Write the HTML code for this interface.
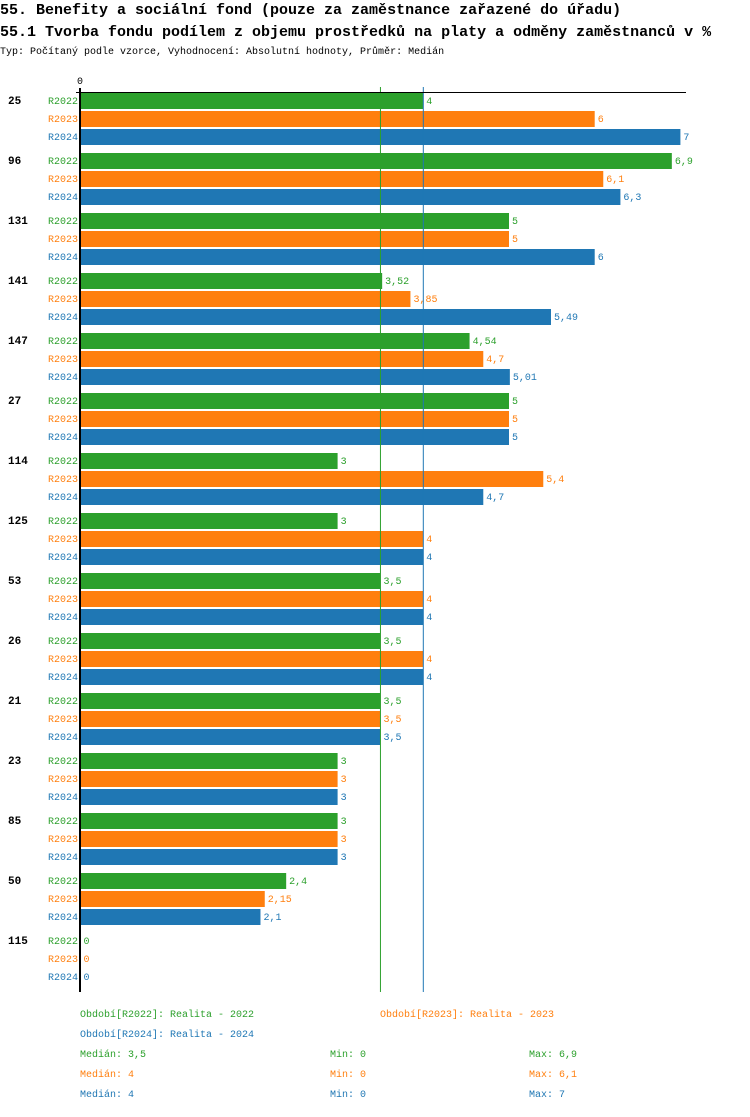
<!DOCTYPE html>
<html><head><meta charset="utf-8"><style>
body{margin:0;background:#fff;width:750px;height:1112px;overflow:hidden}
svg text{font-family:"Liberation Mono","DejaVu Sans Mono",monospace}
</style></head><body>
<svg width="750" height="1112" xmlns="http://www.w3.org/2000/svg">
<text x="0" y="14" font-size="15" font-weight="bold">55. Benefity a sociální fond (pouze za zaměstnance zařazené do úřadu)</text>
<text x="0" y="36" font-size="15" font-weight="bold">55.1 Tvorba fondu podílem z objemu prostředků na platy a odměny zaměstnanců v %</text>
<text x="0" y="54" font-size="10">Typ: Počítaný podle vzorce, Vyhodnocení: Absolutní hodnoty, Průměr: Medián</text>
<g id="plot"></g>
<g id="foot"></g>
</svg>
<script>
const categories=["25","96","131","141","147","27","114","125","53","26","21","23","85","50","115"];
const seriesNames=["R2022","R2023","R2024"];
const r2022=[4,6.9,5,3.52,4.54,5,3,3,3.5,3.5,3.5,3,3,2.4,0];
const r2023=[6,6.1,5,3.85,4.7,5,5.4,4,4,4,3.5,3,3,2.15,0];
const r2024=[7,6.3,6,5.49,5.01,5,4.7,4,4,4,3.5,3,3,2.1,0];
const medians=[3.5,4,4];
const mins=[0,0,0];
const maxs=[6.9,6.1,7];
const colors=["#2ca02c","#ff7f0e","#1f77b4"];
const NS="http://www.w3.org/2000/svg";
const x0=80.5,sc=85.7;
const xs=v=>x0+v*sc;
const groupY=i=>93+i*60;
const plot=document.getElementById('plot');
function mk(tag,attrs,parent,txt){const e=document.createElementNS(NS,tag);for(const k in attrs)e.setAttribute(k,attrs[k]);if(txt!==undefined)e.textContent=txt;parent.appendChild(e);return e;}
const all=[r2022,r2023,r2024];
const fmt=v=>String(v).replace('.',',');
categories.forEach((c,i)=>{
  const t=mk('text',{x:8,y:groupY(i)+11,'font-size':11,'font-weight':'bold'},plot,c);
  
  
  all.forEach((s,j)=>{
    const y=groupY(i)+j*18;
    const lb=mk('text',{x:78,y:y+11,'font-size':10,fill:colors[j],'text-anchor':'end'},plot,seriesNames[j]);
    
    
    if(s[i]>0){
      const r=mk('rect',{x:x0,y:y,width:xs(s[i])-x0,height:16,fill:colors[j]},plot);
      
      
    }
    const v=mk('text',{x:xs(s[i])+3,y:y+11,'font-size':10,fill:colors[j]},plot,fmt(s[i]));
    
    
  });
});
[[medians[0],colors[0]],[medians[2],colors[2]]].forEach(([m,col])=>{
  const l=mk('line',{x1:xs(m),x2:xs(m),y1:87,y2:992,stroke:col,'stroke-width':1},plot);
  
  
});
const ax=mk('line',{x1:80,x2:80,y1:88,y2:992,stroke:'#000','stroke-width':2},plot);


const tx=mk('line',{x1:76,x2:686,y1:92.5,y2:92.5,stroke:'#000','stroke-width':1},plot);


const z=mk('text',{x:77,y:84,'font-size':10},plot,'0');


const foot=document.getElementById('foot');
const leg=[[80,1017,0,"Období[R2022]: Realita - 2022"],[380,1017,1,"Období[R2023]: Realita - 2023"],[80,1037,2,"Období[R2024]: Realita - 2024"]];
leg.forEach(([x,y,j,t])=>{
  const e=mk('text',{x:x,y:y,'font-size':10,fill:colors[j]},foot,t);
  
  
});
[0,1,2].forEach(j=>{
  const y=1057+j*20;
  const a=mk('text',{x:80,y:y,'font-size':10,fill:colors[j]},foot,'Medián: '+fmt(medians[j]));
  
  
  const b=mk('text',{x:330,y:y,'font-size':10,fill:colors[j]},foot,'Min: '+fmt(mins[j]));
  
  
  const c=mk('text',{x:529,y:y,'font-size':10,fill:colors[j]},foot,'Max: '+fmt(maxs[j]));
  
  
});
</script>
</body></html>
